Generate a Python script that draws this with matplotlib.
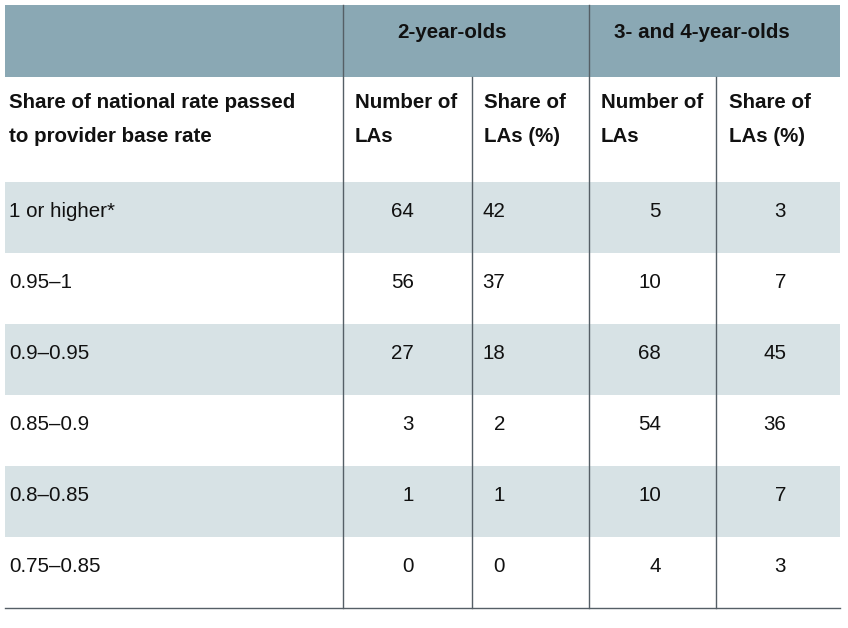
import matplotlib
matplotlib.use("Agg")
import matplotlib.pyplot as plt
from matplotlib.patches import Rectangle

categories = ["1 or higher*", "0.95–1", "0.9–0.95", "0.85–0.9", "0.8–0.85", "0.75–0.85"]
two_num = [64, 56, 27, 3, 1, 0]
two_share = [42, 37, 18, 2, 1, 0]
three_num = [5, 10, 68, 54, 10, 4]
three_share = [3, 7, 45, 36, 7, 3]
groups = ["2-year-olds", "3- and 4-year-olds"]
sub_headers = ["Number of\nLAs", "Share of\nLAs (%)", "Number of\nLAs", "Share of\nLAs (%)"]
row_header = "Share of national rate passed\nto provider base rate"

plt.rcParams["font.family"] = "Liberation Sans"
fig = plt.figure(figsize=(8.48, 6.28), dpi=100)
ax = fig.add_axes([0, 0, 1, 1])
ax.set_xlim(0, 848); ax.set_ylim(628, 0); ax.axis("off")

L, R = 5, 840
top, h1, h2 = 5, 77, 182
rowh = 71
fs = 14.8
ax.add_patch(Rectangle((L, top), R - L, h1 - top, color="#8aa8b4", lw=0))
for i in range(6):
    y0 = h2 + i * rowh
    if i % 2 == 0:
        ax.add_patch(Rectangle((L, y0), R - L, rowh, color="#d7e2e5", lw=0))
bottom = h2 + 6 * rowh
lc = "#555f66"
for x in (343, 589):
    ax.plot([x, x], [top, bottom], color=lc, lw=1)
for x in (472, 716):
    ax.plot([x, x], [h1, bottom], color=lc, lw=1)
ax.plot([L, R], [bottom, bottom], color=lc, lw=1)

ax.text(452, 33, groups[0], ha="center", va="center", fontsize=fs, fontweight="bold", color="#111")
ax.text(702, 33, groups[1], ha="center", va="center", fontsize=fs, fontweight="bold", color="#111")
ax.text(9, 120, row_header, ha="left", va="center", fontsize=fs, fontweight="bold", linespacing=2.0, color="#111")
for x, t in zip([355, 484, 601, 729], sub_headers):
    ax.text(x, 120, t, ha="left", va="center", fontsize=fs, fontweight="bold", linespacing=2.0, color="#111")

rights = [414, 505, 661, 786]
for i, cat in enumerate(categories):
    yc = h2 + i * rowh + rowh / 2 - 6
    ax.text(9, yc, cat, ha="left", va="center", fontsize=fs, color="#111")
    for x, vals in zip(rights, [two_num, two_share, three_num, three_share]):
        ax.text(x, yc, str(vals[i]), ha="right", va="center", fontsize=fs, color="#111")

fig.savefig("out.png", dpi=100)
